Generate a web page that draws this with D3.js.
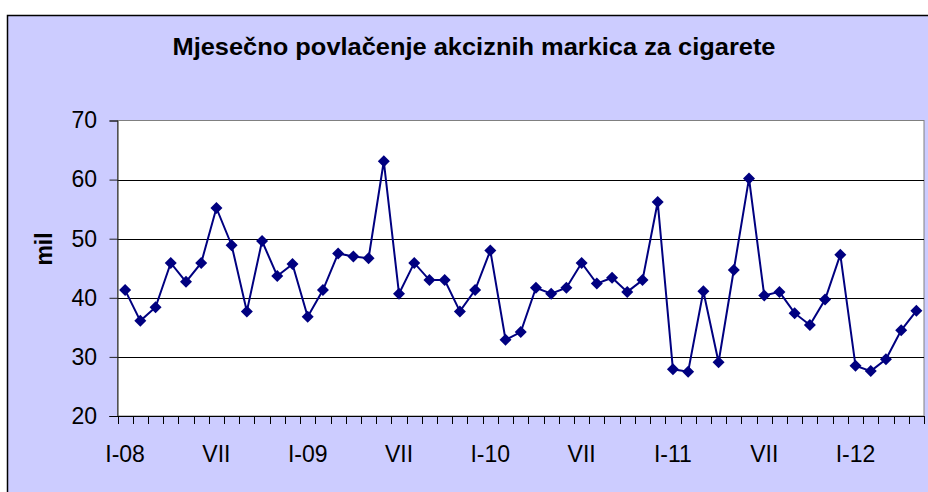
<!DOCTYPE html>
<html>
<head>
<meta charset="utf-8">
<script src="https://cdn.jsdelivr.net/npm/d3@7"></script>
<style>
  body { margin: 0; background: #fff; }
  svg { display: block; font-family: Arial, "Liberation Sans", sans-serif; }
</style>
</head>
<body>
<div id="chart"></div>
<script>
// monthly values, I-2008 .. V-2012 (mil)
const values = [
  41.3, 36.1, 38.4, 45.9, 42.7, 45.9, 55.2, 48.9, 37.7, 49.6, 43.7, 45.7,
  36.8, 41.3, 47.5, 47.0, 46.7, 63.1, 40.7, 45.9, 43.0, 43.0, 37.7, 41.3,
  48.0, 32.9, 34.2, 41.7, 40.7, 41.7, 45.9, 42.4, 43.4, 41.0, 43.0, 56.2,
  27.9, 27.5, 41.1, 29.1, 44.7, 60.2, 40.4, 41.0, 37.4, 35.4, 39.7, 47.3,
  28.5, 27.6, 29.6, 34.5, 37.8
];
const monthLabels = ["I-08", "VII", "I-09", "VII", "I-10", "VII", "I-11", "VII", "I-12"];
const yTicks = [20, 30, 40, 50, 60, 70];

const width = 928, height = 492;
const plot = { left: 117.5, right: 924, top: 120.5, bottom: 416 };

const svg = d3.select("#chart").append("svg")
  .attr("width", width)
  .attr("height", height);

// chart background + frame
svg.append("rect")
  .attr("x", 7.5).attr("y", 15.5)
  .attr("width", width + 10).attr("height", height + 10)
  .attr("fill", "#ccccff")
  .attr("stroke", "#000").attr("stroke-width", 1.5);

const x = d3.scaleBand()
  .domain(d3.range(values.length))
  .range([plot.left, plot.right])
  .padding(0);

const y = d3.scaleLinear()
  .domain([20, 70])
  .range([plot.bottom, plot.top]);

// plot area
svg.append("rect")
  .attr("x", plot.left).attr("y", plot.top)
  .attr("width", plot.right - plot.left).attr("height", plot.bottom - plot.top)
  .attr("fill", "#fff")
  .attr("stroke", "#808080").attr("stroke-width", 1);

// gridlines
svg.append("g").selectAll("line")
  .data(yTicks.filter(t => t > 20 && t < 70))
  .join("line")
  .attr("x1", plot.left).attr("x2", plot.right)
  .attr("y1", d => Math.round(y(d)) + 0.5).attr("y2", d => Math.round(y(d)) + 0.5)
  .attr("stroke", "#000").attr("stroke-width", 1);

// y axis
const yAxis = svg.append("g")
  .attr("transform", `translate(${plot.left},0)`)
  .call(d3.axisLeft(y).tickValues(yTicks).tickSize(8).tickPadding(12.5));
yAxis.select(".domain").attr("stroke", "#222");
yAxis.selectAll(".tick line").attr("stroke", "#222");
yAxis.selectAll("text")
  .attr("font-size", 23)
  .attr("fill", "#000")
  .attr("font-family", "Arial, 'Liberation Sans', sans-serif");

// x axis: tick marks between months
const xAxisG = svg.append("g");
xAxisG.append("line")
  .attr("x1", plot.left - 8).attr("x2", plot.right)
  .attr("y1", plot.bottom + 0.5).attr("y2", plot.bottom + 0.5)
  .attr("stroke", "#000");
xAxisG.selectAll("line.tk")
  .data(d3.range(values.length + 1))
  .join("line")
  .attr("class", "tk")
  .attr("x1", d => Math.round(plot.left + d * x.bandwidth()) + 0.5)
  .attr("x2", d => Math.round(plot.left + d * x.bandwidth()) + 0.5)
  .attr("y1", plot.bottom).attr("y2", plot.bottom + 8)
  .attr("stroke", "#000");

xAxisG.selectAll("text")
  .data(monthLabels)
  .join("text")
  .attr("x", (d, i) => x(i * 6) + x.bandwidth() / 2)
  .attr("y", 462)
  .attr("text-anchor", "middle")
  .attr("font-size", 23)
  .text(d => d);

// series line
const line = d3.line()
  .x((d, i) => x(i) + x.bandwidth() / 2)
  .y(d => y(d));

svg.append("path")
  .datum(values)
  .attr("d", line)
  .attr("fill", "none")
  .attr("stroke", "#000080")
  .attr("stroke-width", 2);

// diamond markers
const r = 6;
svg.append("g").selectAll("path")
  .data(values)
  .join("path")
  .attr("d", (d, i) => {
    const cx = x(i) + x.bandwidth() / 2, cy = y(d);
    return `M${cx},${cy - r}L${cx + r},${cy}L${cx},${cy + r}L${cx - r},${cy}Z`;
  })
  .attr("fill", "#000080");

// title
svg.append("text")
  .attr("x", 474)
  .attr("y", 55)
  .attr("text-anchor", "middle")
  .attr("font-size", 24)
  .attr("font-weight", "bold")
  .attr("textLength", 603)
  .attr("lengthAdjust", "spacingAndGlyphs")
  .text("Mjesečno povlačenje akciznih markica za cigarete");

// y label
svg.append("text")
  .attr("transform", "translate(52,249) rotate(-90)")
  .attr("text-anchor", "middle")
  .attr("font-size", 23)
  .attr("font-weight", "bold")
  .text("mil");
</script>
</body>
</html>
